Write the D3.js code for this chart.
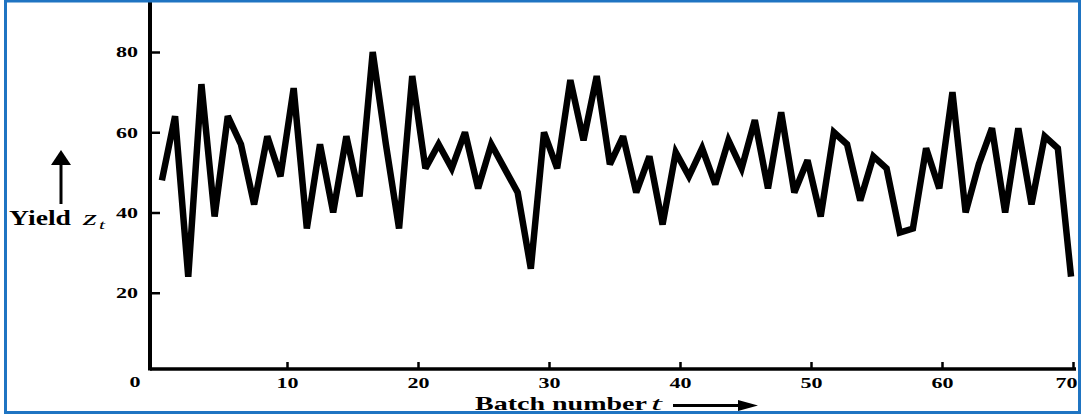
<!DOCTYPE html>
<html lang="en">
<head>
<meta charset="utf-8">
<title>Yields of 70 consecutive batches</title>
<script src="https://cdn.jsdelivr.net/npm/d3@7"></script>
<style>
  body { margin: 0; background: #fff; }
  svg { display: block; }
  .lbl { font-family: "Liberation Serif", serif; fill: #000; }
</style>
</head>
<body>
<script>

// yield z_t of batches 1..70
let yields = [48, 64, 24, 72, 39, 64, 57, 42, 59, 49,
              71, 36, 57, 40, 59, 44, 80, 57, 36, 74,
              51, 57, 51, 60, 46, 57, 51, 45, 26, 60,
              51, 73, 58, 74, 52, 59, 45, 54, 37, 55,
              49, 56, 47, 58, 51, 63, 46, 65, 45, 53,
              39, 60, 57, 43, 54, 51, 35, 36, 56, 46,
              70, 40, 52, 61, 40, 61, 42, 59, 56, 24];
let xTicks = [10, 20, 30, 40, 50, 60, 70];
let yTicks = [20, 40, 60, 80];

let w = 1082, h = 417;

let x = d3.scaleLinear().domain([0, 70]).range([156, 1073]);
let y = d3.scaleLinear().domain([0, 80]).range([373, 52]);
// the printed curve sits a little left of the tick marks
let xb = d3.scaleLinear().domain([1, 70]).range([x(0.45), x(69.85)]);

let axisY = 369;   // x axis baseline
let axisX = 150;   // y axis position
let stretch = "scale(1.47,1)";  // scan is stretched horizontally

let svg = d3.select("body").append("svg")
  .attr("width", w)
  .attr("height", h);

// x axis
let gx = svg.append("g")
  .attr("transform", `translate(0,${axisY})`)
  .call(d3.axisBottom(x).tickValues(xTicks).tickSize(-7).tickPadding(8));
gx.select(".domain").remove();
gx.selectAll(".tick line").attr("stroke", "#000").attr("stroke-width", 2.5);
gx.selectAll(".tick text")
  .attr("class", "lbl")
  .attr("font-size", 15)
  .attr("font-weight", "bold")
  // last label runs into the frame in the scan; nudge it inside
  .attr("transform", d => (d === 70 ? "translate(-7,0) " : "") + stretch);

// y axis, ticks pointing into the plot
let gy = svg.append("g")
  .attr("transform", `translate(${axisX},0)`)
  .call(d3.axisLeft(y).tickValues(yTicks).tickSize(-10).tickPadding(12));
gy.select(".domain").remove();
gy.selectAll(".tick line").attr("stroke", "#000").attr("stroke-width", 2.5);
gy.selectAll(".tick text")
  .attr("class", "lbl")
  .attr("x", 0)
  .attr("font-size", 15)
  .attr("font-weight", "bold")
  .attr("transform", "translate(-12,0) " + stretch);

// axis lines
svg.append("line")
  .attr("x1", axisX).attr("x2", axisX)
  .attr("y1", 0).attr("y2", axisY + 1.5)
  .attr("stroke", "#000").attr("stroke-width", 4);
svg.append("line")
  .attr("x1", axisX).attr("x2", 1076)
  .attr("y1", axisY).attr("y2", axisY)
  .attr("stroke", "#000").attr("stroke-width", 3.5);

// origin label
svg.append("text")
  .attr("class", "lbl")
  .attr("font-size", 15).attr("font-weight", "bold")
  .attr("text-anchor", "middle")
  .attr("transform", `translate(135,387) ${stretch}`)
  .text("0");

// the series
let line = d3.line()
  .x((d, i) => xb(i + 1))
  .y(d => y(d));

svg.append("path")
  .datum(yields)
  .attr("d", line)
  .attr("fill", "none")
  .attr("stroke", "#000")
  .attr("stroke-width", 6.5)
  .attr("stroke-linejoin", "miter")
  .attr("stroke-miterlimit", 3);

// y label with up arrow
svg.append("text").attr("class", "lbl")
  .attr("x", 9).attr("y", 225)
  .attr("font-size", 20).attr("font-weight", "bold")
  .attr("textLength", 62).attr("lengthAdjust", "spacingAndGlyphs")
  .text("Yield");
svg.append("text").attr("class", "lbl")
  .attr("x", 83).attr("y", 225)
  .attr("font-size", 20).attr("font-style", "italic")
  .attr("textLength", 14).attr("lengthAdjust", "spacingAndGlyphs")
  .text("z");
svg.append("text").attr("class", "lbl")
  .attr("x", 99).attr("y", 229)
  .attr("font-size", 12).attr("font-style", "italic")
  .attr("textLength", 6).attr("lengthAdjust", "spacingAndGlyphs")
  .text("t");
svg.append("line")
  .attr("x1", 61).attr("x2", 61)
  .attr("y1", 204).attr("y2", 162)
  .attr("stroke", "#000").attr("stroke-width", 3);
svg.append("path")
  .attr("d", "M61,150 L71,165 L51,165 Z")
  .attr("fill", "#000");

// x label with right arrow
svg.append("text").attr("class", "lbl")
  .attr("x", 475).attr("y", 410)
  .attr("font-size", 19).attr("font-weight", "bold")
  .attr("textLength", 172).attr("lengthAdjust", "spacingAndGlyphs")
  .text("Batch number");
svg.append("text").attr("class", "lbl")
  .attr("x", 651).attr("y", 410)
  .attr("font-size", 19).attr("font-style", "italic")
  .attr("textLength", 11).attr("lengthAdjust", "spacingAndGlyphs")
  .text("t");
svg.append("line")
  .attr("x1", 673).attr("x2", 742)
  .attr("y1", 405.5).attr("y2", 405.5)
  .attr("stroke", "#000").attr("stroke-width", 3);
svg.append("path")
  .attr("d", "M758,405.5 L738,400 L738,411 Z")
  .attr("fill", "#000");

// blue frame
svg.append("rect")
  .attr("x", 5.5).attr("y", 1)
  .attr("width", 1074).attr("height", 411.5)
  .attr("fill", "none")
  .attr("stroke", "#1f74c2")
  .attr("stroke-width", 3);

</script>
</body>
</html>
